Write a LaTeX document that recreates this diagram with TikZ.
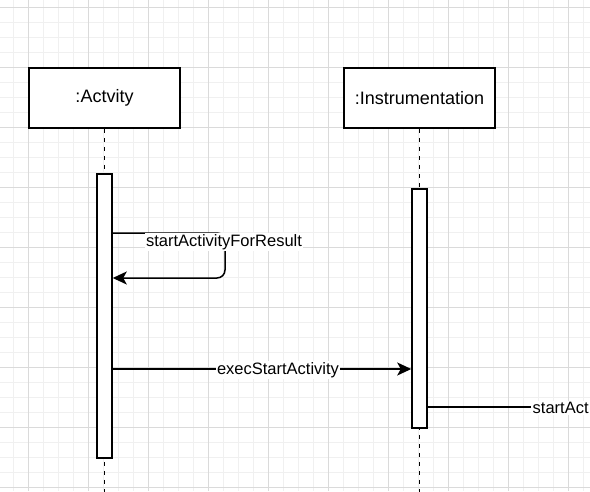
\documentclass[tikz,border=0pt]{standalone}
\usepackage{fontspec}
\setmainfont{Liberation Sans}
\usetikzlibrary{arrows.meta}
\begin{document}
\begin{tikzpicture}[x=1pt,y=-1pt,
  font=\fontsize{16.5}{19}\selectfont,
  head/.style={draw=black,line width=1.8pt,fill=white,minimum width=151pt,minimum height=60pt,inner sep=0pt,font=\fontsize{18}{21}\selectfont},
  actbox/.style={draw=black,line width=1.5pt,fill=white,minimum width=15pt,inner sep=0pt},
  life/.style={draw=black,line width=1.5pt,dash pattern=on 4.5pt off 4.5pt},
  msg/.style={draw=black,line width=1.5pt,-{Stealth[length=14pt,width=13pt,inset=3.5pt]}},
  plain/.style={draw=black,line width=1.5pt},
  lbl/.style={fill=white,inner sep=1.5pt,text=black},
  minorgrid/.style={draw={rgb,255:red,240;green,240;blue,240},line width=1pt},
  majorgrid/.style={draw={rgb,255:red,218;green,218;blue,218},line width=1pt}]
\useasboundingbox (0,0) rectangle (590,491);
\clip (0,0) rectangle (590,491);
\fill[white] (0,0) rectangle (590,491);
% grid
\foreach \x in {13,28,...,590} \draw[minorgrid] (\x,0) -- (\x,491);
\foreach \y in {7,22,...,491} \draw[minorgrid] (0,\y) -- (590,\y);
\foreach \x in {28,88,...,590} \draw[majorgrid] (\x,0) -- (\x,491);
\foreach \y in {7,67,...,491} \draw[majorgrid] (0,\y) -- (590,\y);
% heads
\node[head] (act) at (104.5,98) {:Actvity};
\node[head] (ins) at (419.5,98) {:Instrumentation};
\coordinate (actend) at (104.5,495);
\coordinate (insend) at (419.5,495);
\draw[life] (act.south) -- (actend);
\draw[life] (ins.south) -- (insend);
% activation bars
\node[actbox,minimum height=284pt] (actbar) at (104.5,316) {};
\node[actbox,minimum height=239pt] (insbar) at (419.5,308.5) {};
% self message
\draw[msg,rounded corners=8pt] (actbar.east |- 0,233) -- (225,233) -- (225,278) -- (actbar.east |- 0,278);
\node[lbl] (l1) at (224,242) {startActivityForResult};
% exec message
\draw[msg] (actbar.east |- 0,369) -- (insbar.west |- 0,369);
\node[lbl] (l2) at (278,370) {execStartActivity};
% outgoing message
\node[lbl,anchor=west] (l3) at (531,408) {startAct};
\draw[plain] (insbar.east |- 0,407) -- (l3.west |- 0,407);
\end{tikzpicture}
\end{document}
